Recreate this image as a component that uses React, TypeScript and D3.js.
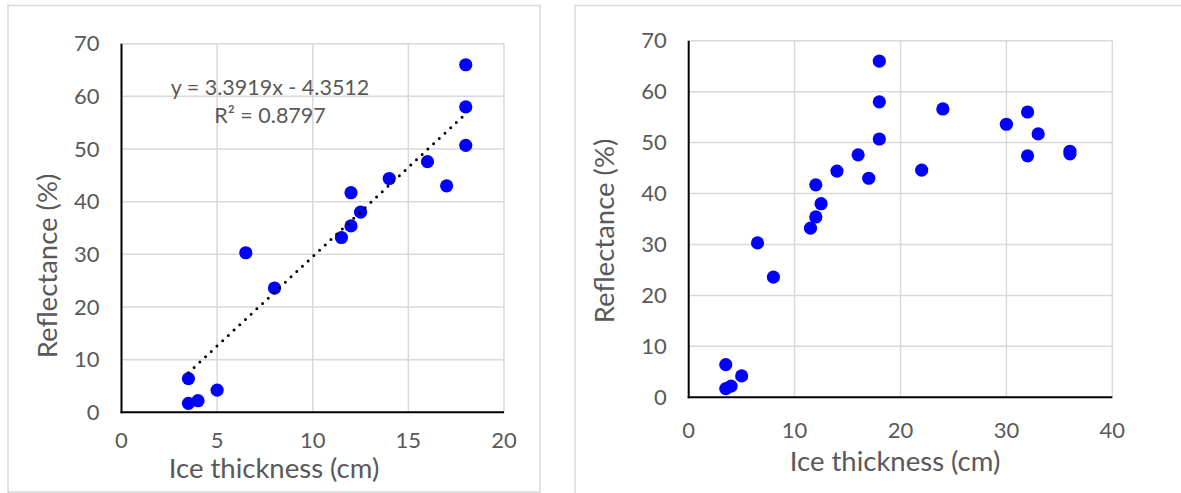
import React, { useEffect, useRef } from 'react';
import * as d3 from 'd3';

// measured points, ice thickness (cm) vs reflectance (%)
const thickness = [18, 18, 18, 16, 17, 14, 12, 12.5, 12, 11.5, 6.5, 8, 3.5, 3.5, 4, 5];
const reflectance = [66.0, 58.0, 50.7, 47.6, 43.0, 44.4, 41.7, 38.0, 35.4, 33.2, 30.3, 23.6, 6.4, 1.7, 2.2, 4.2];

// extra points only shown in the wide-range chart
const extraThickness = [24, 30, 32, 33, 32, 36, 36, 22];
const extraReflectance = [56.6, 53.6, 56.0, 51.7, 47.4, 48.3, 47.8, 44.6];

const xTicksLeft = [0, 5, 10, 15, 20];
const xTicksRight = [0, 10, 20, 30, 40];
const yTicks = [0, 10, 20, 30, 40, 50, 60, 70];

// linear trendline of the left chart
const trendSlope = 3.3919;
const trendIntercept = -4.3512;
const trendLabels = ['y = 3.3919x - 4.3512', 'R² = 0.8797'];

const xTitle = 'Ice thickness (cm)';
const yTitle = 'Reflectance (%)';

const FONT = 'Lato, "Open Sans", sans-serif';
const TEXT = '#595959';
const GRID = '#d9d9d9';

type Pt = { x: number; y: number };

type Panel = {
  frame: [number, number, number, number];
  left: number; right: number; bottom: number; top: number;
  xMax: number; xTicks: number[];
  points: Pt[];
  xTitleX: number; xTitleY: number;
  yTitleX: number; yTitleY: number;
  xLabelY: number;
  trend?: boolean;
};

function drawPanel(svg: d3.Selection<SVGSVGElement, unknown, null, undefined>, p: Panel) {
  const g = svg.append('g');

  g.append('rect')
    .attr('x', p.frame[0]).attr('y', p.frame[1])
    .attr('width', p.frame[2]).attr('height', p.frame[3])
    .attr('fill', '#fff').attr('stroke', GRID).attr('stroke-width', 1.5);

  const x = d3.scaleLinear().domain([0, p.xMax]).range([p.left, p.right]);
  const y = d3.scaleLinear().domain([0, 70]).range([p.bottom, p.top]);

  /* grid */
  g.append('g').selectAll('line.h')
    .data(yTicks.filter(t => t > 0)).enter()
    .append('line')
    .attr('x1', p.left).attr('x2', p.right)
    .attr('y1', d => y(d)).attr('y2', d => y(d))
    .attr('stroke', GRID).attr('stroke-width', 1.5);

  g.append('g').selectAll('line.v')
    .data(p.xTicks.filter(t => t > 0)).enter()
    .append('line')
    .attr('x1', d => x(d)).attr('x2', d => x(d))
    .attr('y1', p.top).attr('y2', p.bottom)
    .attr('stroke', GRID).attr('stroke-width', 1.5);

  /* axis lines */
  g.append('line')
    .attr('x1', p.left).attr('x2', p.left)
    .attr('y1', p.top).attr('y2', p.bottom + 1)
    .attr('stroke', '#000').attr('stroke-width', 2);
  g.append('line')
    .attr('x1', p.left - 1).attr('x2', p.right)
    .attr('y1', p.bottom).attr('y2', p.bottom)
    .attr('stroke', '#000').attr('stroke-width', 2);

  /* tick labels */
  g.append('g').selectAll('text')
    .data(yTicks).enter()
    .append('text')
    .attr('x', p.left - 22)
    .attr('y', d => y(d))
    .attr('dy', '0.35em')
    .attr('text-anchor', 'end')
    .attr('font-family', FONT).attr('font-size', 22).attr('fill', TEXT)
    .text(d => d);

  g.append('g').selectAll('text')
    .data(p.xTicks).enter()
    .append('text')
    .attr('x', d => x(d))
    .attr('y', p.xLabelY)
    .attr('dy', '0.35em')
    .attr('text-anchor', 'middle')
    .attr('font-family', FONT).attr('font-size', 22).attr('fill', TEXT)
    .text(d => d);

  /* titles */
  g.append('text')
    .attr('x', p.xTitleX).attr('y', p.xTitleY)
    .attr('text-anchor', 'middle')
    .attr('font-family', FONT).attr('font-size', 27.5).attr('fill', TEXT)
    .text(xTitle);

  g.append('text')
    .attr('transform', `translate(${p.yTitleX}, ${p.yTitleY}) rotate(-90)`)
    .attr('text-anchor', 'middle')
    .attr('font-family', FONT).attr('font-size', 27.5).attr('fill', TEXT)
    .text(yTitle);

  /* points */
  g.append('g').selectAll('circle')
    .data(p.points).enter()
    .append('circle')
    .attr('cx', d => x(d.x))
    .attr('cy', d => y(d.y))
    .attr('r', 6.6)
    .attr('fill', '#0000ff');

  if (p.trend) {
    const [x0, x1] = d3.extent(p.points, d => d.x) as [number, number];
    const line = d3.line<number>()
      .x(d => x(d))
      .y(d => y(trendSlope * d + trendIntercept));
    g.append('path')
      .attr('d', line([x0, x1]))
      .attr('fill', 'none')
      .attr('stroke', '#000')
      .attr('stroke-width', 3)
      .attr('stroke-linecap', 'round')
      .attr('stroke-dasharray', '0 7.8');

    g.append('g').selectAll('text')
      .data(trendLabels).enter()
      .append('text')
      .attr('x', 270)
      .attr('y', (d, i) => 87 + i * 28.5)
      .attr('dy', '0.35em')
      .attr('text-anchor', 'middle')
      .attr('font-family', FONT).attr('font-size', 21.5).attr('fill', TEXT)
      .text(d => d);
  }
}

export default function App() {
  const ref = useRef<SVGSVGElement>(null);

  useEffect(() => {
    const node = ref.current;
    if (!node) return;
    const svg = d3.select(node);
    svg.selectAll('*').remove();

    const base: Pt[] = thickness.map((t, i) => ({ x: t, y: reflectance[i] }));
    const extra: Pt[] = extraThickness.map((t, i) => ({ x: t, y: extraReflectance[i] }));

    drawPanel(svg, {
      frame: [8, 5.5, 532, 486.5],
      left: 121.5, right: 504, bottom: 412.3, top: 43.7,
      xMax: 20, xTicks: xTicksLeft,
      points: base,
      xTitleX: 274, xTitleY: 478,
      yTitleX: 57, yTitleY: 266,
      xLabelY: 440,
      trend: true,
    });

    drawPanel(svg, {
      frame: [575, 5.5, 640, 500],
      left: 688.7, right: 1112.3, bottom: 397.3, top: 40.7,
      xMax: 40, xTicks: xTicksRight,
      points: base.concat(extra),
      xTitleX: 895, xTitleY: 471,
      yTitleX: 614, yTitleY: 231,
      xLabelY: 430,
    });
  }, []);

  return (
    <svg ref={ref} width={1181} height={493}
      style={{ position: 'absolute', left: 0, top: 0, background: '#fff' }} />
  );
}
